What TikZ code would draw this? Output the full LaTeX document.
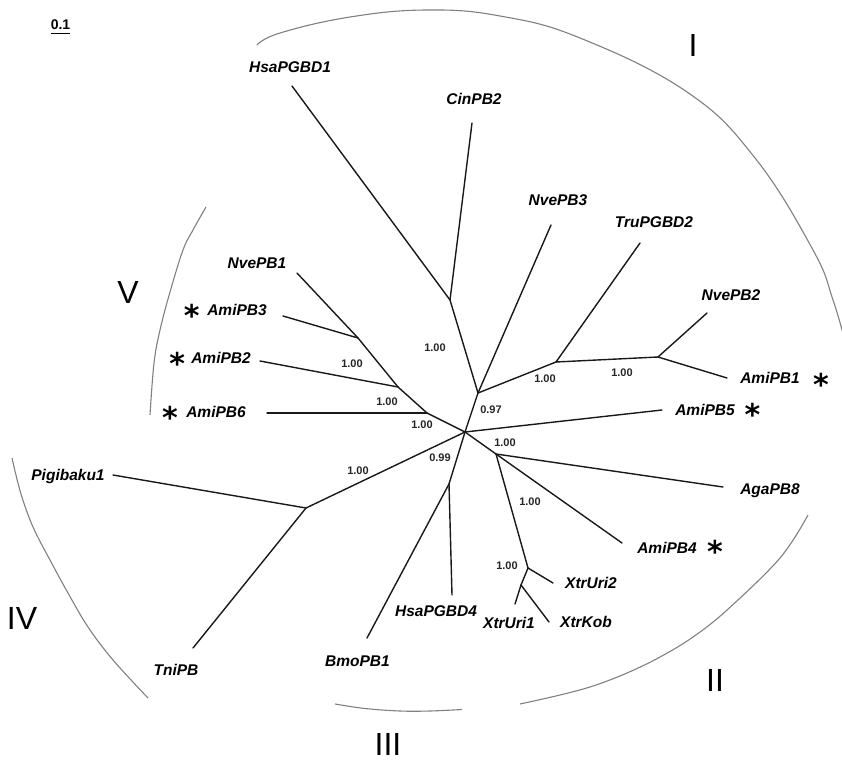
\documentclass[tikz,border=0pt]{standalone}
\usepackage{fontspec}
\setmainfont{Liberation Sans}
\newfontfamily\starfont{DejaVu Sans}
\begin{document}
\begin{tikzpicture}[x=1pt,y=-1pt,
  br/.style={line width=1.4pt, draw=black!90, line cap=round},
  arcline/.style={line width=1.1pt, draw=black!50},
  taxon/.style={inner sep=0pt, font=\fontsize{15.5}{18}\selectfont\bfseries\itshape, text height=11pt, text depth=0pt},
  supp/.style={inner sep=0pt, font=\fontsize{11}{13}\selectfont\bfseries, text=black!85, text height=7.9pt, text depth=0pt},
  roman/.style={inner sep=0pt, font=\fontsize{32}{36}\selectfont, text height=23pt, text depth=0pt},
  starmark/.style={inner sep=0pt, anchor=north, font=\starfont\fontsize{30}{32}\selectfont\bfseries},
]
\useasboundingbox (0,0) rectangle (842,762);
\begin{scope}
\clip (0,0) rectangle (842,762);
% clade arcs
\draw[arcline] plot[smooth, tension=0.7] coordinates {(257,45) (280,33) (350,17) (427,10) (500,16) (580,38) (687,92) (755,158) (813,250) (833,300) (846,345)};
\draw[arcline] plot[smooth, tension=0.6] coordinates {(808,515) (780,558) (727,610) (693,637) (660,657) (627,673) (593,686) (560,695) (520,704)};
\draw[arcline] plot[smooth, tension=0.6] coordinates {(335,704) (365,708.5) (400,711) (430,711) (462,709.5)};
\draw[arcline] plot[smooth, tension=0.6] coordinates {(12,458) (20.7,493) (33,527) (50,560) (68,593) (88,627) (113,660) (148,698)};
\draw[arcline] plot[smooth, tension=0.6] coordinates {(206,207) (193,230) (183,250) (170,292) (160,330) (154,363) (150,415)};
\end{scope}

% internal nodes
\coordinate (root) at (465,432);
\coordinate (B) at (478,393);
\coordinate (C) at (450,300);
\coordinate (D) at (556,362);
\coordinate (E) at (658,357);
\coordinate (F) at (427,413);
\coordinate (G) at (398,387);
\coordinate (H) at (358,338);
\coordinate (J) at (306,508);
\coordinate (K) at (449,484);
\coordinate (L) at (496,454);
\coordinate (M) at (528,568);
\coordinate (N) at (521,585);
% tips
\coordinate (tHsaPGBD1) at (292,86);
\coordinate (tCinPB2) at (472,123);
\coordinate (tNvePB3) at (551,225);
\coordinate (tTruPGBD2) at (640,243);
\coordinate (tNvePB2) at (707,313);
\coordinate (tAmiPB1) at (727,378);
\coordinate (tAmiPB5) at (662,410);
\coordinate (tAgaPB8) at (723,487);
\coordinate (tAmiPB4) at (622,543);
\coordinate (tXtrUri2) at (553,583);
\coordinate (tXtrKob) at (549,622);
\coordinate (tXtrUri1) at (515,604);
\coordinate (tHsaPGBD4) at (452,595);
\coordinate (tBmoPB1) at (367,638);
\coordinate (tTniPB) at (193,648);
\coordinate (tPigibaku1) at (113,475);
\coordinate (tAmiPB6) at (267,413);
\coordinate (tAmiPB2) at (260,361);
\coordinate (tAmiPB3) at (283,316);
\coordinate (tNvePB1) at (297,273);

% branches
\draw[br] (root) -- (B);
\draw[br] (B) -- (C);
\draw[br] (C) -- (tHsaPGBD1);
\draw[br] (C) -- (tCinPB2);
\draw[br] (B) -- (tNvePB3);
\draw[br] (B) -- (D);
\draw[br] (D) -- (tTruPGBD2);
\draw[br] (D) -- (E);
\draw[br] (E) -- (tNvePB2);
\draw[br] (E) -- (tAmiPB1);
\draw[br] (root) -- (tAmiPB5);
\draw[br] (root) -- (L);
\draw[br] (L) -- (tAgaPB8);
\draw[br] (L) -- (tAmiPB4);
\draw[br] (L) -- (M);
\draw[br] (M) -- (tXtrUri2);
\draw[br] (M) -- (N);
\draw[br] (N) -- (tXtrUri1);
\draw[br] (N) -- (tXtrKob);
\draw[br] (root) -- (K);
\draw[br] (K) -- (tHsaPGBD4);
\draw[br] (K) -- (tBmoPB1);
\draw[br] (root) -- (J);
\draw[br] (J) -- (tPigibaku1);
\draw[br] (J) -- (tTniPB);
\draw[br] (root) -- (F);
\draw[br] (F) -- (tAmiPB6);
\draw[br] (F) -- (G);
\draw[br] (G) -- (tAmiPB2);
\draw[br] (G) -- (H);
\draw[br] (H) -- (tAmiPB3);
\draw[br] (H) -- (tNvePB1);

% taxon labels
\node[taxon] (lHsaPGBD1) at (290,67) {HsaPGBD1};
\node[taxon] (lCinPB2) at (474,99) {CinPB2};
\node[taxon] (lNvePB3) at (558,200) {NvePB3};
\node[taxon] (lTruPGBD2) at (654,222) {TruPGBD2};
\node[taxon] (lNvePB2) at (731,295) {NvePB2};
\node[taxon] (lAmiPB1) at (770,378) {AmiPB1};
\node[taxon] (lAmiPB5) at (705,410) {AmiPB5};
\node[taxon] (lAgaPB8) at (770,489) {AgaPB8};
\node[taxon] (lAmiPB4) at (667,548) {AmiPB4};
\node[taxon] (lXtrUri2) at (591,583) {XtrUri2};
\node[taxon] (lXtrKob) at (586,622) {XtrKob};
\node[taxon] (lXtrUri1) at (509,623) {XtrUri1};
\node[taxon] (lHsaPGBD4) at (436,611) {HsaPGBD4};
\node[taxon] (lBmoPB1) at (357.5,661) {BmoPB1};
\node[taxon] (lTniPB) at (176,670) {TniPB};
\node[taxon] (lPigibaku1) at (68,475) {Pigibaku1};
\node[taxon] (lAmiPB6) at (216,412) {AmiPB6};
\node[taxon] (lAmiPB2) at (221,358) {AmiPB2};
\node[taxon] (lAmiPB3) at (237,310) {AmiPB3};
\node[taxon] (lNvePB1) at (257,263) {NvePB1};

% asterisks
\node[starmark] (s3) at (191.7,304) {*};
\node[starmark] (s2) at (177.3,351.7) {*};
\node[starmark] (s6) at (170,405.7) {*};
\node[starmark] (s1) at (821,373) {*};
\node[starmark] (s5) at (752.5,403) {*};
\node[starmark] (s4) at (715,540) {*};

% support values
\node[supp] (v1) at (435,348) {1.00};
\node[supp] (v2) at (491,410) {0.97};
\node[supp] (v3) at (545,379) {1.00};
\node[supp] (v4) at (622,373) {1.00};
\node[supp] (v5) at (352,364) {1.00};
\node[supp] (v6) at (387,402) {1.00};
\node[supp] (v7) at (422,425) {1.00};
\node[supp] (v8) at (358,471) {1.00};
\node[supp] (v9) at (440,458) {0.99};
\node[supp] (v10) at (505,443) {1.00};
\node[supp] (v11) at (530,502) {1.00};
\node[supp] (v12) at (507,566) {1.00};

% clade numerals
\node[roman] (rI) at (693,45) {I};
\node[roman] (rII) at (715,680) {II};
\node[roman] (rIII) at (388,744) {III};
\node[roman] (rIV) at (22,618) {IV};
\node[roman] (rV) at (128,292) {V};

% scale bar
\node[inner sep=0pt, font=\fontsize{14}{16}\selectfont\bfseries, text height=10pt, text depth=0pt] (sc) at (60.5,25) {0.1};
\draw[line width=1pt] ([yshift=-3pt]sc.south west) -- ([yshift=-3pt]sc.south east);
\end{tikzpicture}
\end{document}
